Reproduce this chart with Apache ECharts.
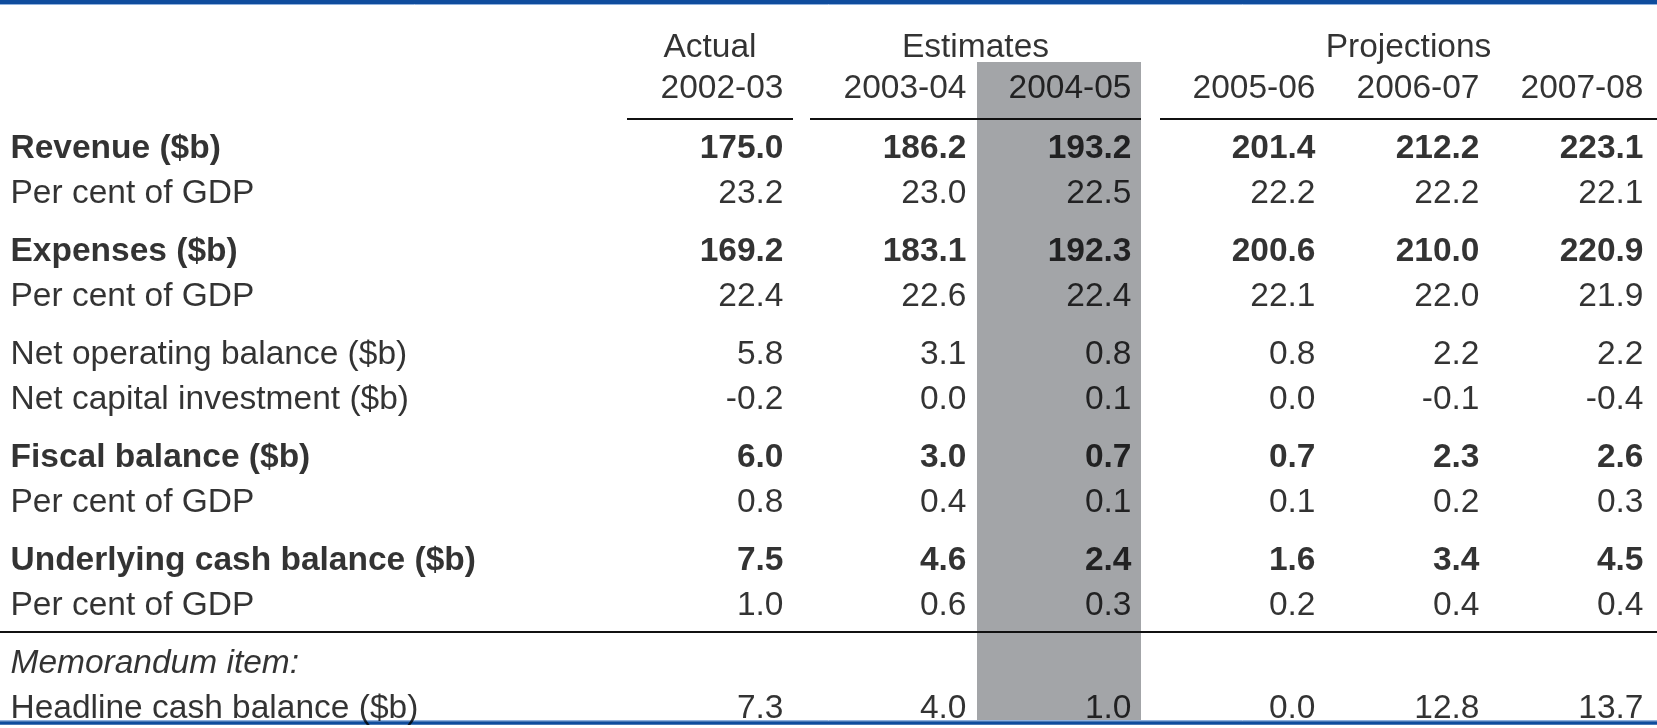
<!DOCTYPE html>
<html lang="en">
<head>
    <meta charset="UTF-8">
    <title>Budget aggregates</title>
    <script src="https://cdn.jsdelivr.net/npm/echarts@6.0.0/dist/echarts.min.js"></script>
    <style>
        html, body { margin: 0; padding: 0; background: #fff; }
        #table { width: 1657px; height: 728px; }
    </style>
</head>
<body>
<div id="table"></div>
<script type="text/javascript">
    // column headings
    var groups = ['Actual', 'Estimates', 'Projections'];
    var years = ['2002-03', '2003-04', '2004-05', '2005-06', '2006-07', '2007-08'];

    // row values, one array per table row
    var revenue = [175.0, 186.2, 193.2, 201.4, 212.2, 223.1];
    var revenuePct = [23.2, 23.0, 22.5, 22.2, 22.2, 22.1];
    var expenses = [169.2, 183.1, 192.3, 200.6, 210.0, 220.9];
    var expensesPct = [22.4, 22.6, 22.4, 22.1, 22.0, 21.9];
    var netOperating = [5.8, 3.1, 0.8, 0.8, 2.2, 2.2];
    var netCapital = [-0.2, 0.0, 0.1, 0.0, -0.1, -0.4];
    var fiscal = [6.0, 3.0, 0.7, 0.7, 2.3, 2.6];
    var fiscalPct = [0.8, 0.4, 0.1, 0.1, 0.2, 0.3];
    var underlying = [7.5, 4.6, 2.4, 1.6, 3.4, 4.5];
    var underlyingPct = [1.0, 0.6, 0.3, 0.2, 0.4, 0.4];
    var headline = [7.3, 4.0, 1.0, 0.0, 12.8, 13.7];

    var rows = [
        { name: 'Revenue ($b)', values: revenue, bold: true },
        { name: 'Per cent of GDP', values: revenuePct },
        { name: 'Expenses ($b)', values: expenses, bold: true },
        { name: 'Per cent of GDP', values: expensesPct },
        { name: 'Net operating balance ($b)', values: netOperating },
        { name: 'Net capital investment ($b)', values: netCapital },
        { name: 'Fiscal balance ($b)', values: fiscal, bold: true },
        { name: 'Per cent of GDP', values: fiscalPct },
        { name: 'Underlying cash balance ($b)', values: underlying, bold: true },
        { name: 'Per cent of GDP', values: underlyingPct },
        { name: 'Memorandum item:', values: null, italic: true },
        { name: 'Headline cash balance ($b)', values: headline }
    ];

    // layout of the table (pixel units on both hidden value axes)
    var W = 1657, H = 728;
    var font = "'Liberation Sans', Arial, sans-serif";
    var fontSize = 33.5;
    var labelX = 10;
    var textRight = [784, 967, 1132, 1316, 1480, 1644];
    var groupSpan = [[627, 793], [810, 1141], [1160, 1657]];
    var shadeCol = [977, 1141];
    var groupTitleY = 47.5, yearY = 88.5, underlineY = 119, ruleY = 632;
    var firstRowY = 148.5, pairStep = 103, rowStep = 45.5;

    function rowY(k) {
        return firstRowY + Math.floor(k / 2) * pairStep + (k % 2) * rowStep;
    }

    function cell(x, y, text, pos, weight, style) {
        return {
            value: [x, y],
            label: {
                formatter: text,
                position: pos,
                fontWeight: weight || 'normal',
                fontStyle: style || 'normal'
            }
        };
    }

    var cells = [];
    groups.forEach(function (g, i) {
        cells.push(cell((groupSpan[i][0] + groupSpan[i][1]) / 2, groupTitleY, g, 'inside'));
    });
    years.forEach(function (y, j) {
        cells.push(cell(textRight[j], yearY, y, 'left'));
    });
    rows.forEach(function (r, k) {
        var y = rowY(k);
        var w = r.bold ? 'bold' : 'normal';
        cells.push(cell(labelX, y, r.name, 'right', w, r.italic ? 'italic' : 'normal'));
        if (r.values) {
            r.values.forEach(function (v, j) {
                cells.push(cell(textRight[j], y, v.toFixed(1), 'left', w));
            });
        }
    });

    var rules = groupSpan.map(function (s) {
        return [{ coord: [s[0], underlineY] }, { coord: [s[1], underlineY] }];
    });
    rules.push([{ coord: [0, ruleY] }, { coord: [W, ruleY] }]);

    var blue = '#0f4c9d', lightBlue = '#8fb1de';
    function hline(y, width, color) {
        return [
            { coord: [0, y], lineStyle: { width: width, color: color } },
            { coord: [W, y] }
        ];
    }

    var chart = echarts.init(document.getElementById('table'), null, { renderer: 'canvas' });

    var option = {
        animation: false,
        backgroundColor: '#fff',
        grid: { left: 0, right: 0, top: 0, bottom: 0 },
        xAxis: { type: 'value', min: 0, max: W, show: false },
        yAxis: { type: 'value', min: 0, max: H, inverse: true, show: false },
        series: [
            {
                // shaded budget-year column and table rules
                type: 'scatter',
                z: 1,
                data: [],
                silent: true,
                markArea: {
                    silent: true,
                    itemStyle: { color: '#a3a5a8' },
                    label: { show: false },
                    data: [[{ coord: [shadeCol[0], 62] }, { coord: [shadeCol[1], 720] }]]
                },
                markLine: {
                    silent: true,
                    symbol: ['none', 'none'],
                    label: { show: false },
                    lineStyle: { type: 'solid', color: '#111', width: 2 },
                    data: rules.concat([
                        hline(2, 4, blue),
                        hline(4.5, 1, lightBlue),
                        hline(720, 1, lightBlue),
                        hline(722.5, 3.5, blue)
                    ])
                }
            },
            {
                type: 'scatter',
                z: 5,
                silent: true,
                symbolSize: 1,
                itemStyle: { color: 'rgba(0,0,0,0)' },
                label: {
                    show: true,
                    distance: 0,
                    color: '#000',
                    fontFamily: font,
                    fontSize: fontSize,
                    verticalAlign: 'middle'
                },
                data: cells
            }
        ]
    };

    chart.setOption(option);
</script>
</body>
</html>
